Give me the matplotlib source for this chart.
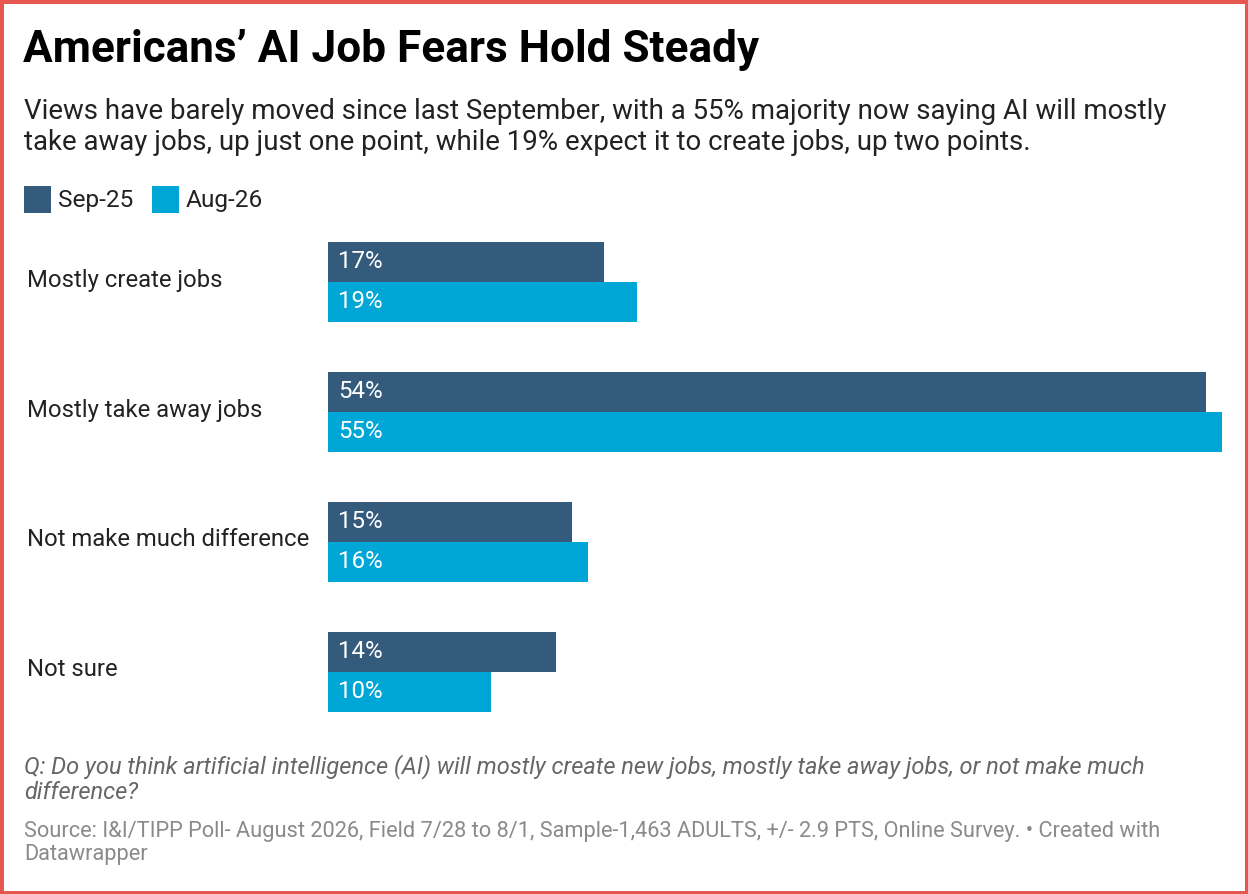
import matplotlib.pyplot as plt
from matplotlib.patches import Rectangle

plt.rcParams['font.family'] = ['Roboto', 'DejaVu Sans']

categories = ['Mostly create jobs', 'Mostly take away jobs', 'Not make much difference', 'Not sure']
sep25 = [17, 54, 15, 14]
aug26 = [19, 55, 16, 10]
series_names = ['Sep-25', 'Aug-26']
colors = ['#345b7c', '#00a6d6']

W, H = 1248, 894
fig = plt.figure(figsize=(W / 100, H / 100), dpi=100)


def px(x, y):
    return x / W, 1 - y / H


fig.patches.append(Rectangle((0, 0), 1, 1, transform=fig.transFigure, fill=False,
                             edgecolor='#e5574f', linewidth=5))

fig.text(*px(23, 50), "Americans\u2019 AI Job Fears Hold Steady", fontsize=31.8, fontweight='bold',
         va='center', color='black')
fig.text(*px(24, 127), "Views have barely moved since last September, with a 55% majority now saying AI will mostly\n"
         "take away jobs, up just one point, while 19% expect it to create jobs, up two points.",
         fontsize=19.9, va='center', color='#222222', linespacing=1.2)

# legend
lx = 24
for name, c in zip(series_names, colors):
    fig.patches.append(Rectangle(px(lx, 213), 27 / W, 27 / H, transform=fig.transFigure,
                                 facecolor=c, edgecolor='none'))
    fig.text(*px(lx + 34, 200), name, fontsize=17.6, va='center', color='#222222')
    lx += 128

bh = 40 / 130
ax = fig.add_axes([328 / W, 1 - 712 / H, (1222 - 328) / W, (712 - 242) / H])
for i, (a, b) in enumerate(zip(sep25, aug26)):
    ax.barh(i - bh / 2, a, height=bh, color=colors[0])
    ax.barh(i + bh / 2, b, height=bh, color=colors[1])
    ax.text(0.6, i - bh / 2, f'{a}%', color='white', fontsize=17.4, va='center')
    ax.text(0.6, i + bh / 2, f'{b}%', color='white', fontsize=17.4, va='center')
    fig.text(*px(27, 280 + 130 * i), categories[i], fontsize=17.2, va='center', color='#222222')
ax.set_xlim(0, 55)
ax.set_ylim(3 + bh, -bh)
ax.axis('off')

fig.text(*px(24, 779), "Q: Do you think artificial intelligence (AI) will mostly create new jobs, mostly take away jobs, or not make much\n"
         "difference?", fontsize=17, style='italic', va='center', color='#666666', linespacing=1.15)
fig.text(*px(24, 843), "Source: I&I/TIPP Poll- August 2026, Field 7/28 to 8/1, Sample-1,463 ADULTS, +/- 2.9 PTS, Online Survey. \u2022 Created with\n"
         "Datawrapper", fontsize=15.7, va='center', color='#8a8a8a', linespacing=1.15)

fig.savefig('out.png', dpi=100)
